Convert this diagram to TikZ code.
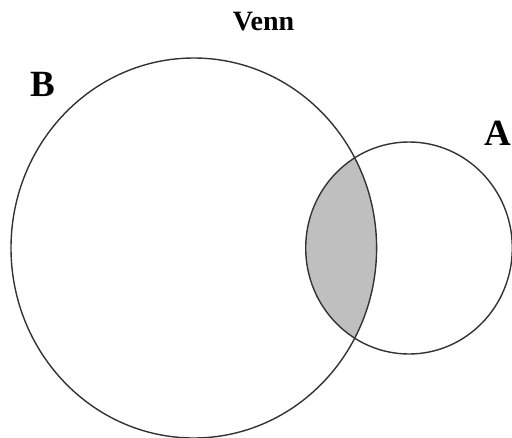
\documentclass[tikz,border=0pt]{standalone}
\usepackage{fontspec}
\setmainfont{Liberation Serif}
\begin{document}
\begin{tikzpicture}[x=1pt,y=-1pt,
  setline/.style={draw=black!80,line width=1.4pt},
  setlabel/.style={font=\bfseries\fontsize{37}{37}\selectfont,anchor=base,inner sep=0pt},
  titlelabel/.style={font=\bfseries\fontsize{28}{28}\selectfont,anchor=base,inner sep=0pt}]
  \useasboundingbox (0,0) rectangle (512,437);
  % shaded overlap of the two sets
  \begin{scope}
    \clip (193.8,248) ellipse [x radius=182.8, y radius=190];
    \fill[black!25] (409,248) ellipse [x radius=103.3, y radius=106];
  \end{scope}
  % set outlines
  \draw[setline] (193.8,248) ellipse [x radius=182.8, y radius=190];
  \draw[setline] (409,248) ellipse [x radius=103.3, y radius=106];
  % labels
  \node[titlelabel] (title) at (263.6,30) {Venn};
  \node[setlabel] (labB) at (42.5,96.7) {B};
  \node[setlabel] (labA) at (498.3,145.7) {A};
\end{tikzpicture}
\end{document}
